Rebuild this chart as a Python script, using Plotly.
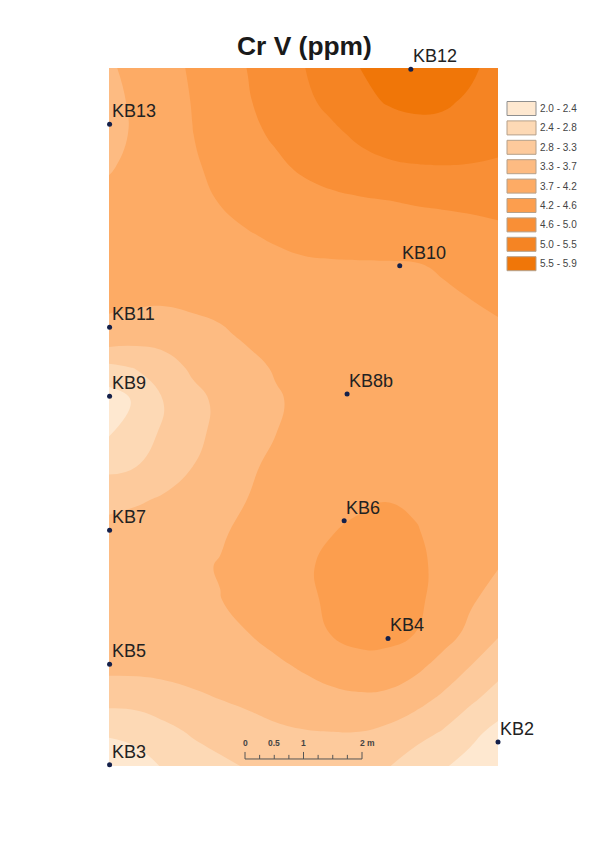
import plotly.graph_objects as go

# grid positions in metres (x from west edge, y from south edge)
x_m = [0, 0.475, 0.95, 1.425, 1.9, 2.375, 2.85, 3.325, 3.8, 4.275, 4.75, 5.225, 5.7, 6.175, 6.65]
y_m = [0, 0.568, 1.136, 1.704, 2.272, 2.84, 3.408, 3.976, 4.544, 5.112, 5.68,
       6.248, 6.816, 7.384, 7.952, 8.52, 9.088, 9.656, 10.224, 10.792, 11.36, 11.93]

# Cr V (ppm), north row first
cr_v = [
    [3.68, 3.86, 4.04, 4.21, 4.41, 4.61, 4.81, 5.02, 5.23, 5.46, 5.68, 5.84, 5.75, 5.55, 5.30],
    [3.60, 3.82, 4.00, 4.18, 4.38, 4.57, 4.77, 4.95, 5.13, 5.33, 5.50, 5.58, 5.54, 5.40, 5.20],
    [3.55, 3.82, 4.00, 4.16, 4.31, 4.50, 4.66, 4.81, 4.95, 5.10, 5.22, 5.28, 5.30, 5.25, 5.15],
    [3.70, 3.85, 3.98, 4.12, 4.25, 4.38, 4.52, 4.66, 4.79, 4.89, 4.96, 5.00, 5.01, 5.00, 4.98],
    [3.85, 3.90, 3.98, 4.07, 4.18, 4.27, 4.36, 4.44, 4.50, 4.55, 4.59, 4.64, 4.67, 4.69, 4.71],
    [3.88, 3.91, 3.96, 4.02, 4.08, 4.15, 4.21, 4.27, 4.30, 4.33, 4.35, 4.36, 4.40, 4.46, 4.52],
    [3.88, 3.90, 3.93, 3.96, 4.00, 4.04, 4.08, 4.11, 4.12, 4.12, 4.12, 4.13, 4.20, 4.30, 4.39],
    [3.80, 3.79, 3.78, 3.80, 3.85, 3.91, 3.97, 4.00, 4.02, 4.03, 4.04, 4.06, 4.10, 4.16, 4.23],
    [3.63, 3.53, 3.50, 3.62, 3.68, 3.80, 3.89, 3.95, 3.98, 4.00, 4.00, 4.01, 4.04, 4.07, 4.10],
    [2.78, 2.90, 3.12, 3.37, 3.50, 3.63, 3.77, 3.87, 3.93, 3.96, 3.98, 3.99, 4.00, 4.02, 4.04],
    [2.20, 2.50, 2.89, 3.17, 3.39, 3.55, 3.69, 3.83, 3.91, 3.95, 3.97, 3.98, 3.99, 4.00, 4.01],
    [2.40, 2.67, 2.94, 3.18, 3.42, 3.58, 3.73, 3.87, 3.95, 3.99, 4.02, 4.03, 4.03, 4.02, 4.01],
    [2.78, 2.87, 3.08, 3.30, 3.50, 3.66, 3.84, 3.97, 4.05, 4.10, 4.13, 4.13, 4.10, 4.06, 4.02],
    [3.16, 3.25, 3.36, 3.47, 3.60, 3.74, 3.88, 4.00, 4.10, 4.12, 4.16, 4.13, 4.10, 4.04, 3.98],
    [3.48, 3.52, 3.57, 3.63, 3.70, 3.81, 3.93, 4.06, 4.16, 4.23, 4.27, 4.19, 4.09, 4.00, 3.91],
    [3.56, 3.60, 3.64, 3.68, 3.75, 3.87, 4.00, 4.13, 4.22, 4.29, 4.31, 4.24, 4.09, 3.92, 3.75],
    [3.58, 3.60, 3.63, 3.68, 3.725, 3.85, 3.98, 4.11, 4.21, 4.27, 4.29, 4.24, 4.05, 3.79, 3.56],
    [3.55, 3.56, 3.59, 3.62, 3.66, 3.73, 3.87, 4.02, 4.18, 4.27, 4.26, 4.17, 3.93, 3.63, 3.35],
    [3.42, 3.42, 3.43, 3.46, 3.50, 3.57, 3.66, 3.78, 3.92, 4.05, 4.05, 3.85, 3.58, 3.30, 3.02],
    [3.00, 3.02, 3.12, 3.22, 3.30, 3.38, 3.47, 3.55, 3.61, 3.64, 3.60, 3.45, 3.22, 2.94, 2.68],
    [2.49, 2.55, 2.73, 2.91, 3.03, 3.13, 3.22, 3.27, 3.29, 3.29, 3.20, 3.03, 2.83, 2.55, 2.30],
    [2.12, 2.28, 2.47, 2.63, 2.78, 2.90, 2.98, 3.03, 3.04, 3.00, 2.90, 2.65, 2.48, 2.28, 2.08],
]

# sampling points
well_names = ["KB12", "KB13", "KB10", "KB11", "KB9", "KB8b", "KB7", "KB6", "KB5", "KB4", "KB2", "KB3"]
well_x = [5.16, 0.01, 4.97, 0.01, 0.01, 4.07, 0.01, 4.02, 0.01, 4.77, 6.65, 0.01]
well_y = [11.91, 10.97, 8.55, 7.50, 6.32, 6.36, 4.03, 4.19, 1.74, 2.18, 0.41, 0.02]

class_labels = ["2.0 - 2.4", "2.4 - 2.8", "2.8 - 3.3", "3.3 - 3.7", "3.7 - 4.2",
                "4.2 - 4.6", "4.6 - 5.0", "5.0 - 5.5", "5.5 - 5.9"]
class_colors = ["#FEE8D0", "#FDD9B5", "#FDCA9C", "#FDBB82", "#FDAB65",
                "#FC9E4E", "#F98F36", "#F58423", "#F07608"]

scale_ticks = [0, 0.25, 0.5, 0.75, 1, 1.25, 1.5, 1.75, 2]
scale_labels = {0: "0", 0.5: "0.5", 1: "1", 2: "2 m"}

# the page adds an 8 px body margin, so the figure is 8 px smaller than the window
WIDTH, HEIGHT = 602, 854
LEFT, RIGHT, TOP, BOTTOM = 101, 112, 60, 96
plot_w = WIDTH - LEFT - RIGHT
plot_h = HEIGHT - TOP - BOTTOM


def px_x(px):
    # window pixel to paper fraction
    return (px - 109) / plot_w


def px_y(py):
    return 1 - (py - 68) / plot_h


# stepped colour scale, one flat step per class
n = len(class_colors)
colorscale = []
for i, c in enumerate(class_colors):
    colorscale.append([i / n, c])
    colorscale.append([(i + 1) / n, c])

fig = go.Figure()

fig.add_trace(go.Contour(
    x=x_m,
    y=y_m,
    z=cr_v[::-1],
    zmin=2.0,
    zmax=5.9,
    autocontour=False,
    contours=dict(start=2.0, end=5.9, size=(5.9 - 2.0) / 9, coloring="fill", showlines=False),
    line=dict(width=0, smoothing=1.3),
    colorscale=colorscale,
    showscale=False,
    hoverinfo="skip",
))

fig.add_trace(go.Scatter(
    x=well_x,
    y=well_y,
    mode="markers",
    marker=dict(size=5, color="#14204a"),
    cliponaxis=False,
    text=well_names,
    hoverinfo="text",
    showlegend=False,
))

# well labels
for name, wx, wy in zip(well_names, well_x, well_y):
    fig.add_annotation(
        x=wx, y=wy, text=name, showarrow=False,
        xanchor="left", yanchor="middle", xshift=0, yshift=13,
        font=dict(family="Liberation Sans", size=18, color="#222222"),
    )

# title
fig.add_annotation(
    xref="paper", yref="paper", x=px_x(304.5), y=px_y(46),
    text="<b>Cr V (ppm)</b>", showarrow=False, xanchor="center", yanchor="middle",
    font=dict(family="Liberation Sans", size=26.4, color="#1a1a1a"),
)

shapes = []

# legend boxes drawn by hand, the classes are not traces
for i, (lab, col) in enumerate(zip(class_labels, class_colors)):
    y_top = 101.5 + i * 19.4
    shapes.append(dict(
        type="rect", xref="paper", yref="paper",
        x0=px_x(507), x1=px_x(536),
        y0=px_y(y_top + 14), y1=px_y(y_top),
        fillcolor=col, line=dict(color="#8f8f8f" if i == 0 else "#b5a08a", width=1),
    ))
    fig.add_annotation(
        xref="paper", yref="paper", x=px_x(538), y=px_y(y_top + 7),
        text=lab, showarrow=False, xanchor="left", yanchor="middle",
        font=dict(family="Liberation Sans", size=10, color="#444444"),
    )

# scale bar, 2 m long
bar_x0 = 2.325
bar_y = 0.12
shapes.append(dict(type="line", x0=bar_x0, x1=bar_x0 + 2, y0=bar_y, y1=bar_y, line=dict(color="#555555", width=1)))
for t in scale_ticks:
    tick_len = 0.12 if t in (0, 1, 2) else 0.07
    shapes.append(dict(type="line", x0=bar_x0 + t, x1=bar_x0 + t, y0=bar_y, y1=bar_y + tick_len,
                       line=dict(color="#555555", width=1)))
for t, lab in scale_labels.items():
    fig.add_annotation(
        x=bar_x0 + t, y=bar_y, text="<b>" + lab + "</b>", showarrow=False,
        xanchor="center", yanchor="middle", yshift=16, xshift=5 if t == 2 else 0,
        font=dict(family="Liberation Sans", size=8.5, color="#444444"),
    )

fig.update_layout(
    width=WIDTH,
    height=HEIGHT,
    margin=dict(l=LEFT, r=RIGHT, t=TOP, b=BOTTOM, pad=0),
    paper_bgcolor="white",
    plot_bgcolor="white",
    showlegend=False,
    shapes=shapes,
    xaxis=dict(range=[0, 6.65], visible=False),
    yaxis=dict(range=[0, 11.93], visible=False),
)

fig.write_html("out.html")
